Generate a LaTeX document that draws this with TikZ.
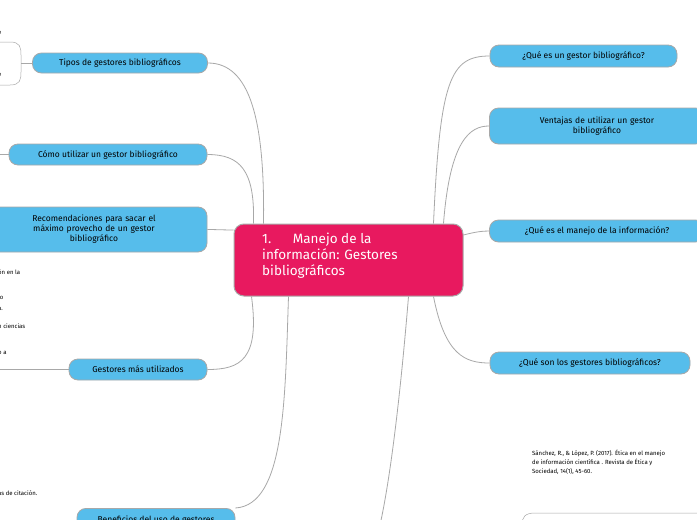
\documentclass[tikz,border=0pt]{standalone}
\usepackage{fontspec}
\setmainfont{Fira Sans}
\usetikzlibrary{positioning}
\definecolor{topicblue}{HTML}{56BDEB}
\definecolor{mainpink}{HTML}{E8195F}
\definecolor{linegray}{HTML}{A8A8A8}
\tikzset{%
  topic/.style={
    rectangle, rounded corners=9pt, draw=linegray, line width=0.8pt,
    fill=topicblue, font=\fontsize{8.5}{10}\selectfont, align=center,
    inner sep=2pt
  },
  branch/.style={draw=linegray, line width=0.8pt},
  leaf/.style={font=\fontsize{6}{7}\selectfont, anchor=west, inner sep=0pt, align=left},
}
\begin{document}
\hyphenpenalty=10000
\begin{tikzpicture}[x=1pt, y=-1pt]
  \clip (0,0) rectangle (697,520);
  \fill[white] (0,0) rectangle (697,520);

  % main node
  \node [rectangle, rounded corners=10pt, draw=linegray, line width=1pt, fill=mainpink,
         minimum width=229pt, minimum height=72pt] (main) at (348.5,260) {};
  \node [anchor=north west, text=white, align=left, inner sep=0pt,
         font=\fontsize{13.5}{16}\selectfont] (maintext) at (262,233)
        {1.\hspace{1.6em}Manejo de la\\información: Gestores\\bibliográficos};

  % left topics
  \node [topic, minimum width=175pt, minimum height=20pt] (tipos) at (120,63) {Tipos de gestores bibliográficos};
  \node [topic, minimum width=198pt, minimum height=21pt] (como) at (108,154.5) {Cómo utilizar un gestor bibliográfico};
  \node [topic, minimum width=226pt, minimum height=45pt, text width=150pt] (recom) at (94,229.5) {Recomendaciones para sacar el\\máximo provecho de un gestor\\bibliográfico};
  \node [topic, minimum width=138pt, minimum height=21pt] (mas) at (138,369.5) {Gestores más utilizados};
  \node [topic, minimum width=158pt, minimum height=24pt, anchor=north] (benef) at (156,508) {Beneficios del uso de gestores};

  % right topics
  \node [topic, minimum width=187pt, minimum height=22pt] (quees) at (583.5,56) {¿Qué es un gestor bibliográfico?};
  \node [topic, minimum width=215pt, minimum height=36pt, text width=150pt] (ventajas) at (597,126) {Ventajas de utilizar un gestor\\bibliográfico};
  \node [topic, minimum width=215pt, minimum height=22pt] (manejo) at (597,231) {¿Qué es el manejo de la información?};
  \node [topic, minimum width=200pt, minimum height=22pt] (queson) at (590,363) {¿Qué son los gestores bibliográficos?};

  % branches
  \draw [branch] (main.north west)++(30,0) .. controls (265,120) and (250,63) .. (tipos.east);
  \draw [branch] (main.north west)++(20,0) .. controls (255,170) and (240,154.5) .. (como.east);
  \draw [branch] (main.west) ++(0,-30) .. controls (225,230) and (215,229.5) .. (recom.east);
  \draw [branch] (main.south west)++(18,0) .. controls (260,360) and (240,369.5) .. (mas.east);
  \draw [branch] (main.south west)++(55,0) .. controls (285,400) and (285,505) .. (benef.north east);
  \draw [branch] (main.north east)++(-30,0) .. controls (440,80) and (450,56) .. (quees.west);
  \draw [branch] (main.north east)++(-20,0) .. controls (450,140) and (470,126) .. (ventajas.west);
  \draw [branch] (main.east) ++(0,-25) .. controls (475,232) and (482,231) .. (manejo.west);
  \draw [branch] (main.south east)++(-30,0) .. controls (445,355) and (465,363) .. (queson.west);
  \draw [branch] (main.south east)++(-55,0) .. controls (400,400) and (390,480) .. (380,525);

  % cropped leaves at the left edge
  \coordinate (brtop) at (0,42);
  \coordinate (brbot) at (0,85);
  \draw [branch, line width=0.5pt] (brtop) -- (10,42) .. controls (20,42) and (21,47) .. (21,55)
        -- (21,72) .. controls (21,80) and (20,85) .. (10,85) -- (brbot);
  \draw [branch, line width=0.5pt] (21,63) -- (tipos.west);
  \coordinate (comoend) at (0,154.5);
  \draw [branch, line width=0.5pt] (comoend) -- (como.west);
  \coordinate (masend) at (0,369.5);
  \draw [branch, line width=0.5pt] (masend) -- (mas.west);
  \node [leaf] (lf1) at (-2,33) {e};
  \node [leaf] (lf2) at (-2,75) {e};
  \node [leaf] (lf3) at (-2,272) {ón en la};
  \node [leaf] (lf4) at (-2,298) {jo};
  \node [leaf] (lf5) at (-2,309) {a.};
  \node [leaf] (lf6) at (-2,326) {n ciencias};
  \node [leaf] (lf7) at (-2,353) {o a};
  \node [leaf] (lf8) at (-2,493) {as de citación.};

  % reference at the bottom right
  \node [leaf, anchor=north west, font=\fontsize{6}{9}\selectfont] (ref) at (532,450)
        {Sánchez, R., \& López, P. (2017). Ética en el manejo\\de información científica . Revista de Ética y\\Sociedad, 14(1), 45-60.};
  \coordinate (refbox) at (700,513);
  \draw [branch, line width=0.5pt] (refbox) -- (535,513) .. controls (525,513) and (522,517) .. (522,525);
\end{tikzpicture}
\end{document}
